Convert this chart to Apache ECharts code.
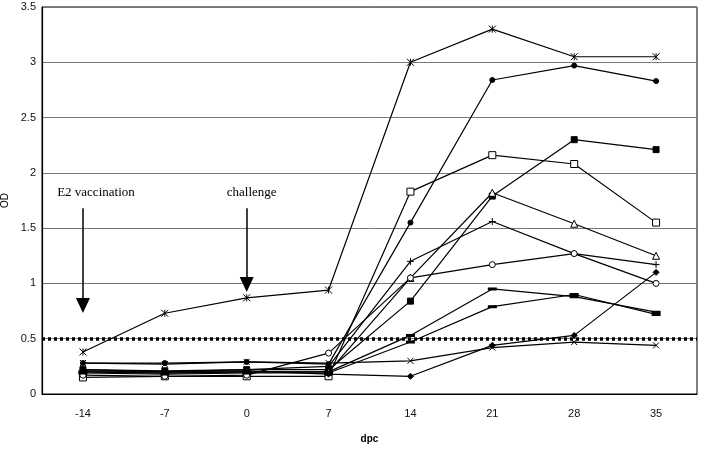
<!DOCTYPE html>
<html>
<head>
<meta charset="utf-8">
<script src="https://cdn.jsdelivr.net/npm/echarts@6/dist/echarts.min.js"></script>
<style>
  html, body { margin: 0; padding: 0; background: #fff; }
  #chart { width: 702px; height: 452px; }
</style>
</head>
<body>
<div id="chart"></div>
<script>
// days post challenge (x axis categories)
var days = ['-14', '-7', '0', '7', '14', '21', '28', '35']

// OD values per animal
var sAsterisk = [0.38, 0.73, 0.87, 0.94, 3.00, 3.30, 3.05, 3.05]
var sDotHigh = [0.28, 0.28, 0.29, 0.27, 1.55, 2.84, 2.97, 2.83]
var sSquare = [0.22, 0.21, 0.22, 0.22, 0.84, 1.79, 2.30, 2.21]
var sOpenSquare = [0.15, 0.16, 0.16, 0.16, 1.83, 2.16, 2.08, 1.55]
var sTriangle = [0.20, 0.19, 0.20, 0.20, 1.05, 1.82, 1.54, 1.25]
var sPlus = [0.21, 0.20, 0.22, 0.25, 1.20, 1.56, 1.27, 1.17]
var sOpenCircle = [0.17, 0.16, 0.17, 0.37, 1.05, 1.17, 1.27, 1.00]
var sDash1 = [0.20, 0.19, 0.20, 0.20, 0.53, 0.95, 0.88, 0.74]
var sDash2 = [0.19, 0.18, 0.19, 0.19, 0.47, 0.79, 0.90, 0.72]
var sDiamondLow = [0.22, 0.20, 0.21, 0.18, 0.16, 0.44, 0.53, 1.10]
var sCross = [0.28, 0.27, 0.29, 0.28, 0.30, 0.42, 0.47, 0.44]

var cutoff = 0.5 // dotted threshold line

// markers
var SYM_ASTERISK = 'path://M0,0L10,10M10,0L0,10M5,0L5,10'
var SYM_CROSS = 'path://M0,0L10,10M10,0L0,10'
var SYM_PLUS = 'path://M5,0L5,10M0,5L10,5'

function mk(name, data, symbol, size, open) {
  return {
    name: name,
    type: 'line',
    data: data,
    symbol: symbol,
    symbolSize: size,
    showAllSymbol: true,
    lineStyle: { color: '#000', width: 1.2 },
    itemStyle: {
      color: open ? '#fff' : '#000',
      borderColor: '#000',
      borderWidth: 1
    },
    z: 3
  }
}

var series = [
  mk('a1', sAsterisk, SYM_ASTERISK, 7, false),
  mk('a2', sDotHigh, 'circle', 5, false),
  mk('a3', sSquare, 'rect', 6, false),
  mk('a4', sOpenSquare, 'rect', 7, true),
  mk('a5', sTriangle, 'triangle', 7, true),
  mk('a6', sPlus, SYM_PLUS, 7, false),
  mk('a7', sOpenCircle, 'circle', 6, true),
  mk('a8', sDash1, 'rect', [6, 2], false),
  mk('a9', sDash2, 'rect', [6, 2], false),
  mk('a10', sDiamondLow, 'diamond', 6, false),
  mk('a11', sCross, SYM_CROSS, 6, false)
]

// threshold + annotation arrows hang on the first series
series[0].markLine = {
  silent: true,
  symbol: ['none', 'none'],
  label: { show: false },
  data: [
    { yAxis: cutoff, lineStyle: { color: '#000', type: [3, 3], width: 3.5 } },
    [
      { coord: ['-14', 1.68], symbol: 'none', lineStyle: { color: '#000', type: 'solid', width: 1.5 } },
      { coord: ['-14', 0.8], symbol: 'triangle', symbolSize: [14, 15], symbolRotate: 180 }
    ],
    [
      { coord: ['0', 1.68], symbol: 'none', lineStyle: { color: '#000', type: 'solid', width: 1.5 } },
      { coord: ['0', 0.99], symbol: 'triangle', symbolSize: [14, 15], symbolRotate: 180 }
    ]
  ]
}
series[0].markPoint = {
  silent: true,
  symbol: 'circle',
  symbolSize: 0,
  label: {
    show: true,
    color: '#000',
    fontFamily: 'Liberation Serif',
    fontSize: 13
  },
  data: [
    { coord: ['-14', 1.82], label: { formatter: 'E2 vaccination', offset: [13, 0] } },
    { coord: ['0', 1.82], label: { formatter: 'challenge', offset: [5, 0] } }
  ]
}

var option = {
  animation: false,
  backgroundColor: '#fff',
  grid: {
    left: 42,
    right: 5,
    top: 7,
    bottom: 58,
    outerBoundsMode: 'none',
    containLabel: false,
    show: true,
    borderColor: '#000',
    borderWidth: 1
  },
  xAxis: {
    type: 'category',
    data: days,
    boundaryGap: true,
    name: 'dpc',
    nameLocation: 'middle',
    nameGap: 40,
    nameTextStyle: { fontFamily: 'Liberation Sans', fontSize: 10, fontWeight: 'bold', color: '#000' },
    axisLine: { lineStyle: { color: '#000', width: 1.2 } },
    axisTick: { show: false },
    axisLabel: { fontFamily: 'Liberation Sans', fontSize: 11, color: '#111', margin: 14 }
  },
  yAxis: {
    type: 'value',
    min: 0,
    max: 3.5,
    interval: 0.5,
    name: 'OD',
    nameLocation: 'middle',
    nameGap: 32,
    nameMoveOverlap: false,
    nameTextStyle: { fontFamily: 'Liberation Sans', fontSize: 10, color: '#000', padding: [12, 0, 0, 0] },
    axisLine: { show: true, lineStyle: { color: '#000', width: 1.2 } },
    axisTick: { show: false },
    axisLabel: { fontFamily: 'Liberation Sans', fontSize: 11, color: '#111', margin: 6 },
    splitLine: { lineStyle: { color: '#777', width: 1 } }
  },
  series: series
}

var myChart = echarts.init(document.getElementById('chart'))
myChart.setOption(option)
</script>
</body>
</html>
